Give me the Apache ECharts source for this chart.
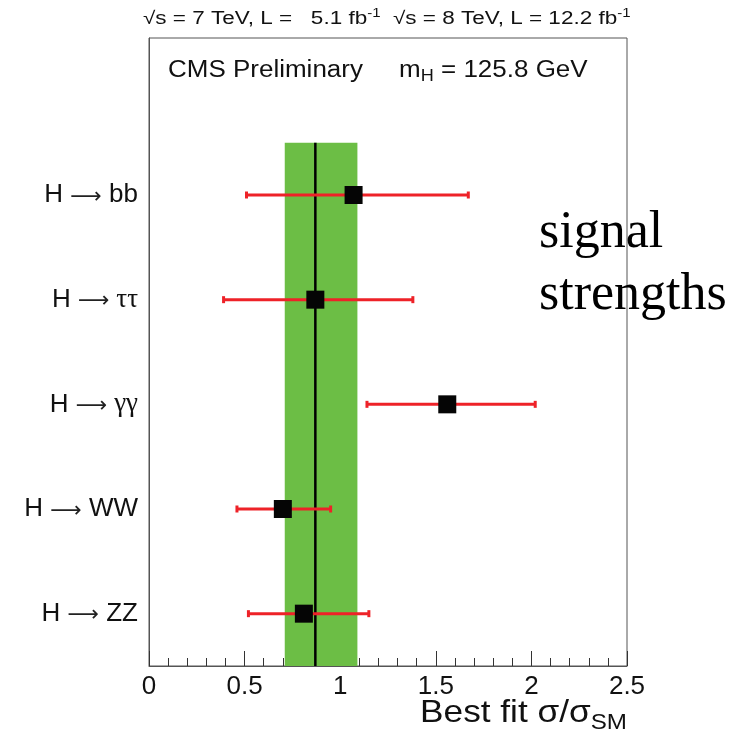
<!DOCTYPE html>
<html>
<head>
<meta charset="utf-8">
<script src="https://cdn.jsdelivr.net/npm/echarts@6/dist/echarts.min.js"></script>
<style>
  html, body { margin: 0; padding: 0; background: #fff; }
  #main { width: 736px; height: 739px; }
</style>
</head>
<body>
<div id="main"></div>
<script>
// channels listed top to bottom
var channels = ['H → bb', 'H → ττ', 'H → γγ', 'H → WW', 'H → ZZ'];
var bestFit = [1.07, 0.87, 1.56, 0.70, 0.81];
var errLow = [0.51, 0.39, 1.14, 0.46, 0.52];
var errHigh = [1.67, 1.38, 2.02, 0.95, 1.15];
var combined = 0.87;
var combinedLow = 0.71;
var combinedHigh = 1.09;
var xTicks = [0, 0.5, 1, 1.5, 2, 2.5];

var red = '#ee2228';
var green = '#6cbe45';

var points = [], bars = [];
for (var i = 0; i < channels.length; i++) {
    var y = channels.length - 0.5 - i;
    points.push([bestFit[i], y]);
    bars.push([errLow[i], errHigh[i], y]);
}

function labelFor(v) {
    var idx = channels.length - 0.5 - v;
    if (Math.abs(idx - Math.round(idx)) > 1e-6) return '';
    idx = Math.round(idx);
    if (idx < 0 || idx >= channels.length) return '';
    var parts = channels[idx].split(' → ');
    var tail = parts[1];
    var style = /[γτ]/.test(tail) ? 'g' : 'n';
    return '{n|' + parts[0] + ' }{a|⟶}{' + style + '| ' + tail + '}';
}

var myChart = echarts.init(document.getElementById('main'));

var option = {
    animation: false,
    backgroundColor: '#fff',
    grid: {
        left: 149, right: 109, top: 38, bottom: 73,
        show: true, borderColor: '#555', borderWidth: 1
    },
    xAxis: {
        type: 'value',
        min: xTicks[0], max: xTicks[xTicks.length - 1], interval: 0.5,
        axisLine: { show: true, lineStyle: { color: '#555', width: 1 } },
        axisTick: { show: true, inside: true, length: 15, lineStyle: { color: '#333' } },
        minorTick: { show: true, splitNumber: 5, length: 8, lineStyle: { color: '#333' } },
        splitLine: { show: false },
        axisLabel: {
            margin: 8, fontSize: 26, color: '#111', fontFamily: 'Liberation Sans',
            formatter: function (v) { return String(v); }
        }
    },
    yAxis: {
        type: 'value', min: 0, max: 6, interval: 0.5,
        axisLine: { show: true, lineStyle: { color: '#555', width: 1 } },
        axisTick: { show: false },
        splitLine: { show: false },
        axisLabel: {
            margin: 11, color: '#111',
            formatter: labelFor,
            rich: {
                n: { fontSize: 26, fontFamily: 'Liberation Sans', color: '#111' },
                a: { fontSize: 22, fontFamily: 'DejaVu Sans', color: '#222', padding: [4, 0, 0, 0] },
                g: { fontSize: 27, fontFamily: 'Liberation Serif', color: '#111' }
            }
        }
    },
    graphic: [
        {
            type: 'text', x: 143, y: 8, scaleX: 1.25, z: 10,
            style: {
                text: '√s = 7 TeV, L =   5.1 fb{sup|-1}  √s = 8 TeV, L = 12.2 fb{sup|-1}',
                font: '18px "Liberation Sans"', fill: '#111', verticalAlign: 'top',
                rich: { sup: { fontSize: 12, padding: [0, 0, 10, 0], fill: '#111' } }
            }
        },
        {
            type: 'text', x: 168, y: 57, scaleX: 1.13, z: 10,
            style: {
                text: 'CMS Preliminary     m{sub|H} = 125.8 GeV',
                font: '23px "Liberation Sans"', fill: '#111', verticalAlign: 'top',
                rich: { sub: { fontSize: 16, padding: [12, 0, 0, 0], fill: '#111' } }
            }
        },
        {
            type: 'text', x: 627, y: 693, scaleX: 1.1, z: 10,
            style: {
                text: 'Best fit σ/σ{sub|SM}',
                font: '32px "Liberation Sans"', fill: '#111', align: 'right', verticalAlign: 'top',
                rich: { sub: { fontSize: 22, padding: [19, 0, 0, 0], fill: '#111' } }
            }
        },
        {
            type: 'text', x: 539, y: 202, z: 10,
            style: {
                text: 'signal\nstrengths',
                font: '52px "Liberation Serif"', fill: '#000', lineHeight: 62, verticalAlign: 'top'
            }
        }
    ],
    series: [
        {
            type: 'line',
            data: [[combined, 0], [combined, 5]],
            symbol: 'none',
            lineStyle: { color: '#000', width: 2.5 },
            z: 3,
            markArea: {
                silent: true,
                itemStyle: { color: green, opacity: 1 },
                data: [[{ xAxis: combinedLow, yAxis: 0 }, { xAxis: combinedHigh, yAxis: 5 }]]
            }
        },
        {
            type: 'custom',
            data: bars,
            encode: { x: [0, 1], y: 2 },
            z: 4,
            renderItem: function (params, api) {
                var p1 = api.coord([api.value(0), api.value(2)]);
                var p2 = api.coord([api.value(1), api.value(2)]);
                return {
                    type: 'group',
                    children: [
                        { type: 'line', shape: { x1: p1[0], y1: p1[1], x2: p2[0], y2: p2[1] },
                          style: { stroke: red, lineWidth: 3 } },
                        { type: 'rect', shape: { x: p1[0] - 1.5, y: p1[1] - 3.5, width: 3, height: 7 },
                          style: { fill: red } },
                        { type: 'rect', shape: { x: p2[0] - 1.5, y: p2[1] - 3.5, width: 3, height: 7 },
                          style: { fill: red } }
                    ]
                };
            }
        },
        {
            type: 'scatter',
            data: points,
            symbol: 'rect',
            symbolSize: 18,
            itemStyle: { color: '#050505', opacity: 1 },
            z: 5
        }
    ]
};
myChart.setOption(option);
</script>
</body>
</html>
